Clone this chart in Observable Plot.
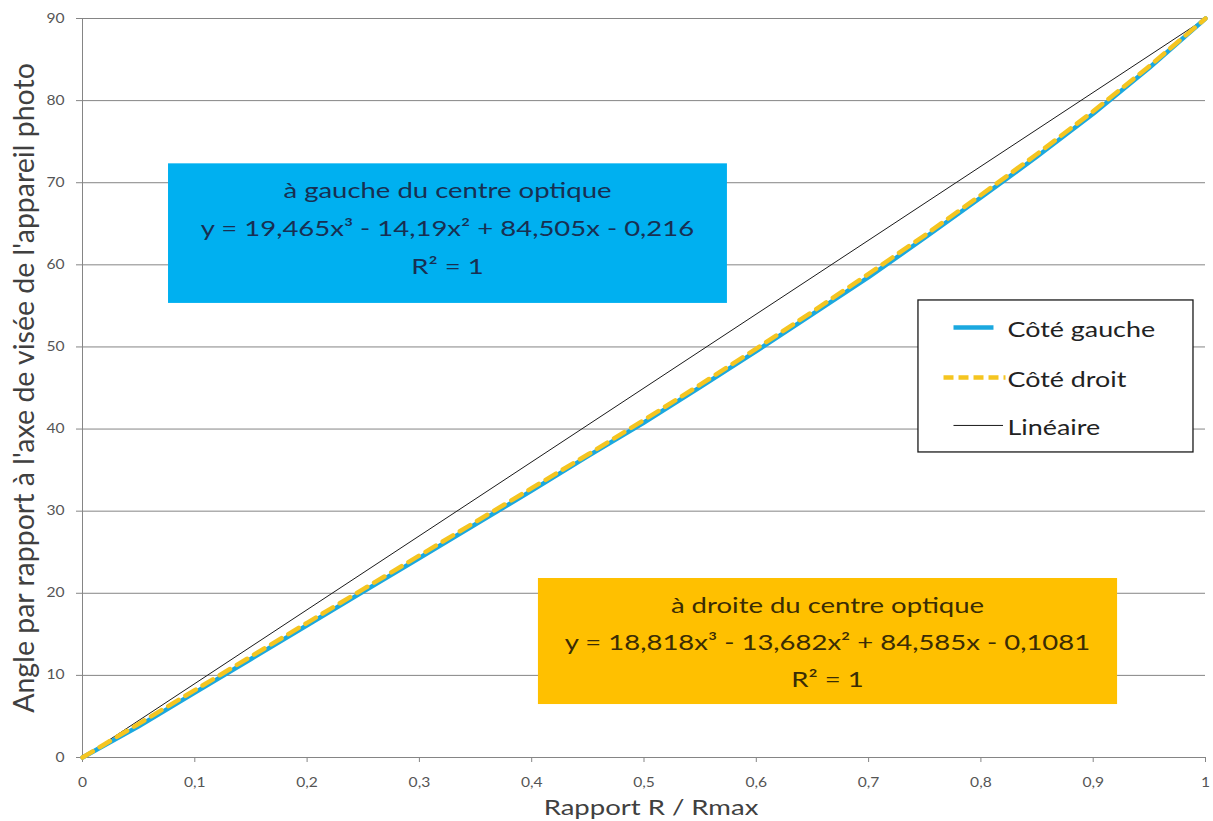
<!DOCTYPE html>
<html>
<head>
<meta charset="utf-8">
<script src="https://cdn.jsdelivr.net/npm/d3@7"></script>
<script src="https://cdn.jsdelivr.net/npm/@observablehq/plot@0.6"></script>
<style>
  body { margin: 0; background: #fff; }
  #chart svg { display: block; }
</style>
</head>
<body>
<div id="chart"></div>
<script>
// ---- data ----
const ratio = [0, 0.05, 0.1, 0.15, 0.2, 0.25, 0.3, 0.35, 0.4, 0.45, 0.5, 0.55, 0.6, 0.65, 0.7, 0.75, 0.8, 0.85, 0.9, 0.95, 1];
const leftSide  = [0, 3.8, 7.9, 12.0, 16.1, 20.2, 24.3, 28.4, 32.5, 36.7, 40.8, 45.1, 49.5, 54.0, 58.5, 63.3, 68.2, 73.2, 78.4, 84.0, 90];
const rightSide = [0, 4.1, 8.2, 12.3, 16.4, 20.5, 24.6, 28.7, 32.8, 36.9, 41.1, 45.4, 49.8, 54.3, 58.9, 63.6, 68.5, 73.5, 78.7, 84.2, 90];
const linearX = [0, 1];
const linearY = [0, 90];
const yTicks = [0, 10, 20, 30, 40, 50, 60, 70, 80, 90];
const xTicks = [0, 0.1, 0.2, 0.3, 0.4, 0.5, 0.6, 0.7, 0.8, 0.9, 1];
const seriesNames = ["Côté gauche", "Côté droit", "Linéaire"];
const seriesColors = ["#1BA8DF", "#F5C520", "#1a1a1a"];
const xTitle = "Rapport R / Rmax";
const yTitle = "Angle par rapport à l'axe de visée de l'appareil photo";
const leftBoxLines = ["à gauche du centre optique", "y = 19,465x³ - 14,19x² + 84,505x - 0,216", "R² = 1"];
const rightBoxLines = ["à droite du centre optique", "y = 18,818x³ - 13,682x² + 84,585x - 0,1081", "R² = 1"];

// ---- tables built from the arrays ----
const leftData = ratio.map((r, i) => ({x: r, y: leftSide[i]}));
const rightData = ratio.map((r, i) => ({x: r, y: rightSide[i]}));
const linData = linearX.map((r, i) => ({x: r, y: linearY[i]}));

// annotation layout (data space)
const blueBox = {x1: 0.0766, x2: 0.5743, y1: 55.3, y2: 72.3, cx: 0.325, rows: [69.05, 64.4, 59.7]};
const orangeBox = {x1: 0.406, x2: 0.9217, y1: 6.45, y2: 21.8, cx: 0.6634, rows: [18.4, 13.9, 9.4]};
const legendBox = {x1: 0.7444, x2: 0.9893, y1: 37.15, y2: 55.66,
  sx1: [0.7756, 0.7667, 0.7756], sx2: [0.8112, 0.8219, 0.8197], tx: 0.8237,
  rows: [52.37, 46.28, 40.44]};
const legendItems = seriesNames.map((name, i) => ({
  name, color: seriesColors[i], x1: legendBox.sx1[i], x2: legendBox.sx2[i], y: legendBox.rows[i],
  width: i === 2 ? 1 : 4.5, dashed: i === 1
}));

const font = "Lato, 'Open Sans', sans-serif";
const comma = d => String(d).replace(".", ",");

const chart = Plot.plot({
  width: 1213,
  height: 821,
  marginLeft: 82,
  marginRight: 8,
  marginTop: 18,
  marginBottom: 64,
  style: {fontFamily: font, background: "#fff"},
  x: {domain: [0, 1]},
  y: {domain: [0, 90]},
  marks: [
    Plot.gridY(yTicks, {stroke: "#858585", strokeOpacity: 1, strokeWidth: 1}),
    Plot.ruleX([0], {stroke: "#858585"}),
    Plot.ruleY([0], {stroke: "#858585"}),
    Plot.axisY({ticks: yTicks, tickSize: 6, tickPadding: 12, tickFormat: comma, fontSize: 12.5, color: "#555", stroke: "#858585", label: null}),
    Plot.axisX({ticks: xTicks, tickSize: 5, tickPadding: 16, tickFormat: comma, fontSize: 12.5, color: "#555", stroke: "#858585", label: null}),
    // annotation boxes
    Plot.rect([blueBox], {x1: "x1", x2: "x2", y1: "y1", y2: "y2", fill: "#00B0F0"}),
    Plot.text(leftBoxLines, {x: () => blueBox.cx, y: (d, i) => blueBox.rows[i], text: d => d, fontSize: 22, fill: "#182f52"}),
    Plot.rect([orangeBox], {x1: "x1", x2: "x2", y1: "y1", y2: "y2", fill: "#FFC000"}),
    Plot.text(rightBoxLines, {x: () => orangeBox.cx, y: (d, i) => orangeBox.rows[i], text: d => d, fontSize: 22, fill: "#3a2c05"}),
    // series
    Plot.line(linData, {x: "x", y: "y", stroke: "#1a1a1a", strokeWidth: 1}),
    Plot.line(leftData, {x: "x", y: "y", stroke: seriesColors[0], strokeWidth: 4.5}),
    Plot.line(rightData, {x: "x", y: "y", stroke: seriesColors[1], strokeWidth: 4.5, strokeDasharray: "12,8"}),
    // legend
    Plot.rect([legendBox], {x1: "x1", x2: "x2", y1: "y1", y2: "y2", fill: "#fff", stroke: "#1a1a1a", strokeWidth: 1.3}),
    Plot.link(legendItems.filter(d => !d.dashed), {x1: "x1", x2: "x2", y1: "y", y2: "y", stroke: "color", strokeWidth: "width"}),
    Plot.link(legendItems.filter(d => d.dashed), {x1: "x1", x2: "x2", y1: "y", y2: "y", stroke: "color", strokeWidth: "width", strokeDasharray: "10,5"}),
    Plot.text(legendItems, {x: () => legendBox.tx, y: d => d.y - 0.35, text: "name", textAnchor: "start", fontSize: 21.5, fill: "#222"}),
    // axis titles
    Plot.text([xTitle], {frameAnchor: "bottom", textAnchor: "middle", lineAnchor: "middle", dx: 7, dy: 50, fontSize: 22, fill: "#404040"}),
    Plot.text([yTitle], {frameAnchor: "left", textAnchor: "middle", lineAnchor: "middle", dx: -58, rotate: -90, fontSize: 28.5, fill: "#404040"})
  ]
});

// the reference is horizontally stretched: widen horizontal texts around their anchor
const stretch = 1.25;
d3.select(chart).selectAll("text").each(function() {
  const el = this;
  const t = el.getAttribute("transform");
  if (t && /rotate/.test(t)) return;
  const s = ` scale(${stretch},1)`;
  if (t) {
    el.setAttribute("transform", t + s);
  } else {
    const x = el.getAttribute("x") || 0, y = el.getAttribute("y") || 0;
    el.setAttribute("x", 0);
    el.setAttribute("y", 0);
    el.setAttribute("transform", `translate(${x},${y})` + s);
  }
});
document.getElementById("chart").append(chart);
</script>
</body>
</html>
